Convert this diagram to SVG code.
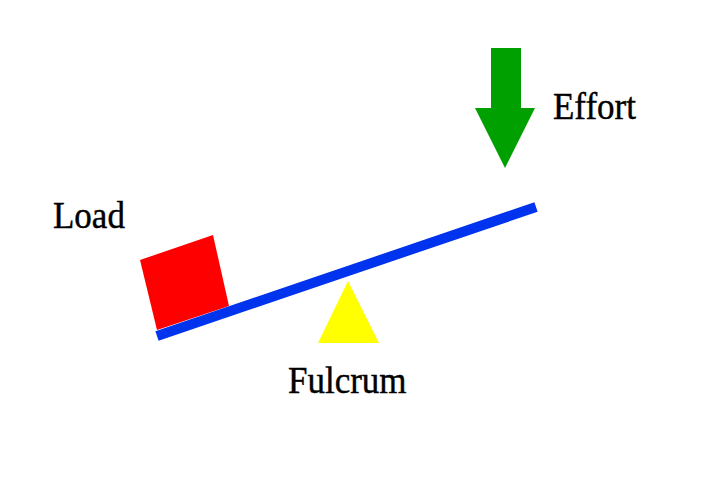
<svg xmlns="http://www.w3.org/2000/svg" width="720" height="480" viewBox="0 0 720 480">
<style>
text{font-family:"Liberation Serif","Times New Roman",serif;font-size:35px;fill:#000;stroke:#000;stroke-width:0.4}
</style>
<rect width="720" height="480" fill="#fff"/>
<g id="load">
<polygon points="140,260 213,235 229,306 157,330" fill="#ff0000"/>
<text transform="translate(53,228) scale(1,1.1)">Load</text>
</g>
<g id="lever">
<line x1="157" y1="336" x2="536" y2="207" stroke="#0033ee" stroke-width="10"/>
</g>
<g id="fulcrum">
<polygon points="348,281 318,343 379,343" fill="#ffff00"/>
<text transform="translate(288,392.5) scale(1,1.1)">Fulcrum</text>
</g>
<g id="effort">
<polygon points="491,48 521,48 521,108 535,108 505,168 475,108 491,108" fill="#00a000"/>
<text transform="translate(553,119) scale(1,1.1)">Effort</text>
</g>
</svg>
